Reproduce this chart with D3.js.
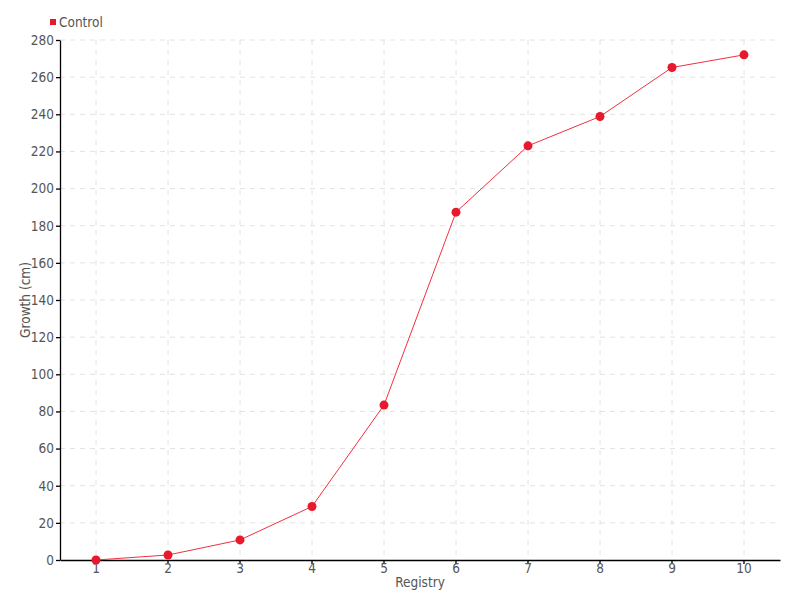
<!DOCTYPE html>
<html><head><meta charset="utf-8">
<script src="https://cdn.jsdelivr.net/npm/d3@7"></script>
<style>
body{margin:0;background:#fff;}
text{font-family:"DejaVu Sans Condensed","DejaVu Sans",sans-serif;font-stretch:condensed;}
</style></head>
<body>
<svg id="chart" width="800" height="600"></svg>
<script>
const categories = ["1","2","3","4","5","6","7","8","9","10"];
const growth = [0, 2.7, 10.8, 28.8, 83.4, 187.3, 223, 238.8, 265.2, 272];
const yTicks = [0,20,40,60,80,100,120,140,160,180,200,220,240,260,280];
const seriesName = "Control";

const svg = d3.select("#chart");
const m = {left:60, right:20, top:40, bottom:40};
const W = 800, H = 600;
const FS = "13.5px";
const x = d3.scaleBand().domain(categories).range([m.left, W - m.right]);
const y = d3.scaleLinear().domain([0,280]).range([H - m.bottom, m.top]);
const cx = d => x(d) + x.bandwidth()/2;

// grid
const g = svg.append("g");
g.selectAll(".hg").data(yTicks.slice(1)).join("line")
  .attr("x1", m.left).attr("x2", W - m.right)
  .attr("y1", d => y(d)).attr("y2", d => y(d))
  .attr("stroke", "#e2e2e2").attr("stroke-dasharray", "5,5");
g.selectAll(".vg").data(categories).join("line")
  .attr("x1", d => cx(d)).attr("x2", d => cx(d))
  .attr("y1", m.top).attr("y2", H - m.bottom)
  .attr("stroke", "#e2e2e2").attr("stroke-dasharray", "5,5");

// axes
const xAxis = svg.append("g").attr("transform", `translate(0,${H - m.bottom})`)
  .call(d3.axisBottom(x).tickSize(4).tickSizeOuter(0));
const yAxis = svg.append("g").attr("transform", `translate(${m.left},0)`)
  .call(d3.axisLeft(y).tickValues(yTicks).tickSize(4).tickSizeOuter(0));
[xAxis, yAxis].forEach(a => {
  a.select(".domain").attr("stroke", "#000").attr("stroke-width", 1.3);
  a.selectAll(".tick line").attr("stroke", "#000").attr("stroke-width", 1.3);
  a.selectAll(".tick text").attr("fill", "#555").style("font-size", FS);
});
xAxis.selectAll(".tick text").attr("y", 3).attr("dy", "0.74em");
yAxis.selectAll(".tick text").attr("x", -6);

// line
const pts = categories.map((c,i) => ({c, v: growth[i]}));
svg.append("path").datum(pts)
  .attr("fill", "none").attr("stroke", "#f0303f").attr("stroke-width", 1)
  .attr("d", d3.line().x(d => cx(d.c)).y(d => y(d.v)));
svg.selectAll(".dot").data(pts).join("circle")
  .attr("cx", d => cx(d.c)).attr("cy", d => y(d.v)).attr("r", 4.5)
  .attr("fill", "#e8192c");

// axis titles
svg.append("text").attr("x", 420).attr("y", 587).attr("text-anchor", "middle")
  .attr("fill", "#555").style("font-size", FS).text("Registry");
svg.append("text").attr("transform", "translate(30,300) rotate(-90)")
  .attr("text-anchor", "middle").attr("fill", "#555").style("font-size", FS).text("Growth (cm)");

// legend
svg.append("rect").attr("x", 50).attr("y", 19).attr("width", 6).attr("height", 6).attr("fill", "#e8192c");
svg.append("text").attr("x", 59).attr("y", 27).attr("fill", "#555").style("font-size", FS).text(seriesName);
</script>
</body></html>
